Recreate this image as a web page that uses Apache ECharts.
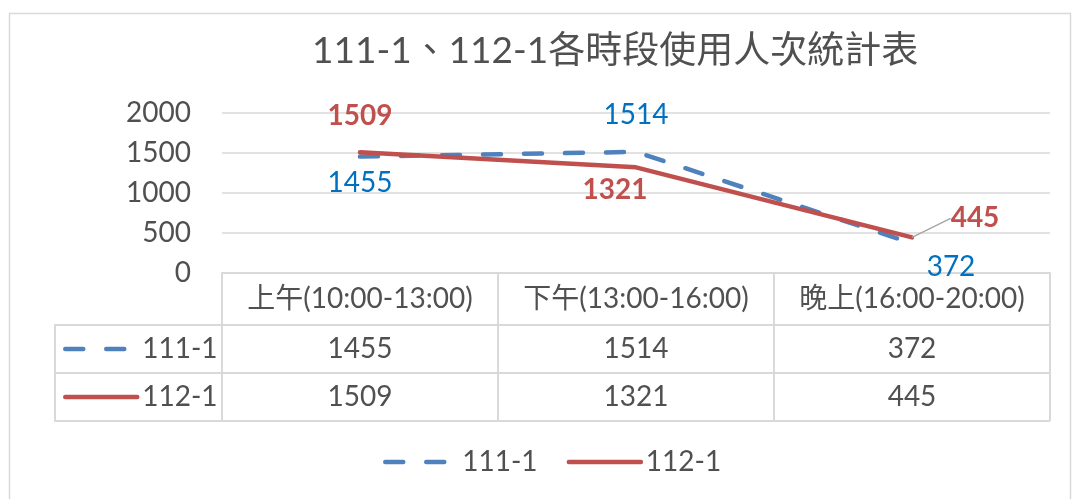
<!DOCTYPE html>
<html>
<head>
<meta charset="utf-8">
<title>111-1、112-1各時段使用人次統計表</title>
<script src="https://cdn.jsdelivr.net/npm/echarts@6/dist/echarts.min.js"></script>
<style>
  html, body { margin: 0; padding: 0; background: #fff; }
  #chart { width: 1085px; height: 499px; }
</style>
</head>
<body>
<div id="chart"></div>
<script>
// 時段類別
const categories = ['上午(10:00-13:00)', '下午(13:00-16:00)', '晚上(16:00-20:00)']
// 學期名稱
const seriesNames = ['111-1', '112-1']
// 使用人次
const values111 = [1455, 1514, 372]
const values112 = [1509, 1321, 445]
// y 軸刻度
const yMin = 0
const yMax = 2000
const yStep = 500

const FONT = "Lato, 'Noto Sans CJK TC', sans-serif"
const TEXT = '#505050'
const GRID_LINE = '#D9D9D9'
const BLUE = '#4F81BD'
const RED = '#C0504D'
const FS = 28

// label shift from each point (style only)
const offs111 = [[0, 26], [0, -37], [39, 24]]
const offs112 = [[0, -36], [-21, 23], [63, -19]]

function shiftBy (offs) {
  return function (p) {
    const o = offs[p.dataIndex]
    return { dx: o[0], dy: o[1] }
  }
}

// 表格數值
const tableData = []
;[values111, values112].forEach(function (vals, s) {
  vals.forEach(function (v, i) {
    tableData.push([categories[i], seriesNames[s], v])
  })
})

const legendBase = {
  itemWidth: 72,
  itemHeight: 14,
  selectedMode: false,
  itemStyle: { opacity: 0 },
  lineStyle: { width: 4.5, cap: 'round' },
  textStyle: { fontFamily: FONT, fontSize: FS, color: TEXT, lineHeight: 28 }
}

const chart = echarts.init(document.getElementById('chart'))
const option = {
  animation: false,
  textStyle: { fontFamily: FONT },
  title: {
    text: '111-1、112-1各時段使用人次統計表',
    left: 307,
    top: 28,
    textStyle: { fontFamily: FONT, fontSize: 37, fontWeight: 'normal', color: TEXT }
  },
  graphic: [{
    type: 'rect',
    z: -10,
    shape: { x: 9.5, y: 13.5, width: 1061, height: 520 },
    style: { fill: 'none', stroke: GRID_LINE, lineWidth: 1.5 }
  }],
  legend: [
    Object.assign({}, legendBase, { data: seriesNames, left: 378, top: 443, itemGap: 29 }),
    Object.assign({}, legendBase, { data: [seriesNames[0]], left: 58, top: 330 }),
    Object.assign({}, legendBase, { data: [seriesNames[1]], left: 58, top: 378 })
  ],
  grid: [
    { left: 222, right: 35, top: 113, height: 160, containLabel: false },
    { left: 222, right: 35, top: 325, height: 96, containLabel: false }
  ],
  xAxis: [
    {
      gridIndex: 0,
      type: 'category',
      data: categories,
      boundaryGap: true,
      axisLine: { show: true, lineStyle: { color: GRID_LINE, width: 2 } },
      axisTick: { show: false },
      axisLabel: { show: false },
      splitLine: { show: false }
    },
    {
      gridIndex: 1,
      type: 'category',
      data: categories,
      position: 'top',
      boundaryGap: true,
      axisLine: { show: true, lineStyle: { color: GRID_LINE, width: 2 } },
      axisTick: { show: true, interval: 0, length: 52, lineStyle: { color: GRID_LINE, width: 2 } },
      axisLabel: {
        show: true, interval: 0, margin: 26, verticalAlign: 'middle',
        fontFamily: FONT, fontSize: FS, color: TEXT
      },
      splitLine: { show: true, interval: 0, lineStyle: { color: GRID_LINE, width: 2 } }
    }
  ],
  yAxis: [
    {
      gridIndex: 0,
      type: 'value',
      min: yMin,
      max: yMax,
      interval: yStep,
      axisLine: { show: false },
      axisTick: { show: false },
      axisLabel: {
        margin: 31, fontFamily: FONT, fontSize: FS, color: TEXT,
        formatter: function (v) { return String(v) }
      },
      splitLine: { show: true, lineStyle: { color: GRID_LINE, width: 1.5 } }
    },
    {
      gridIndex: 1,
      type: 'category',
      data: seriesNames,
      inverse: true,
      boundaryGap: true,
      axisLine: { show: true, lineStyle: { color: GRID_LINE, width: 2 } },
      axisTick: { show: true, interval: 0, length: 167, lineStyle: { color: GRID_LINE, width: 2 } },
      axisLabel: { show: false },
      splitLine: { show: true, interval: 0, lineStyle: { color: GRID_LINE, width: 2 } }
    },
    {
      gridIndex: 1,
      type: 'category',
      data: seriesNames,
      inverse: true,
      position: 'left',
      offset: 167,
      axisLine: { show: true, lineStyle: { color: GRID_LINE, width: 2 } },
      axisTick: { show: false },
      axisLabel: { show: false },
      splitLine: { show: false }
    }
  ],
  series: [
    {
      name: seriesNames[0],
      type: 'line',
      xAxisIndex: 0,
      yAxisIndex: 0,
      data: values111,
      symbol: 'circle',
      symbolSize: 0,
      lineStyle: { color: BLUE, width: 4.5, type: [18, 23], cap: 'round' },
      itemStyle: { color: BLUE },
      label: {
        show: true, position: 'inside',
        fontFamily: FONT, fontSize: FS, color: '#0070C0'
      },
      labelLayout: shiftBy(offs111),
      z: 2
    },
    {
      name: seriesNames[1],
      type: 'line',
      xAxisIndex: 0,
      yAxisIndex: 0,
      data: values112.map(function (v, i) {
        return i === 2
          ? { value: v, labelLine: { show: true, lineStyle: { color: '#A6A6A6', width: 1.5 } } }
          : v
      }),
      symbol: 'circle',
      symbolSize: 0,
      lineStyle: { color: RED, width: 4.5, cap: 'round' },
      itemStyle: { color: RED },
      label: {
        show: true, position: 'inside',
        fontFamily: FONT, fontSize: FS, fontWeight: 'bold', color: RED
      },
      labelLayout: shiftBy(offs112),
      z: 3
    },
    {
      name: 'table',
      type: 'scatter',
      xAxisIndex: 1,
      yAxisIndex: 1,
      data: tableData,
      symbolSize: 0,
      silent: true,
      itemStyle: { opacity: 1 },
      label: {
        show: true, position: 'inside', opacity: 1,
        formatter: function (p) { return p.value[2] },
        fontFamily: FONT, fontSize: FS, color: TEXT
      }
    }
  ]
}
chart.setOption(option)
</script>
</body>
</html>
